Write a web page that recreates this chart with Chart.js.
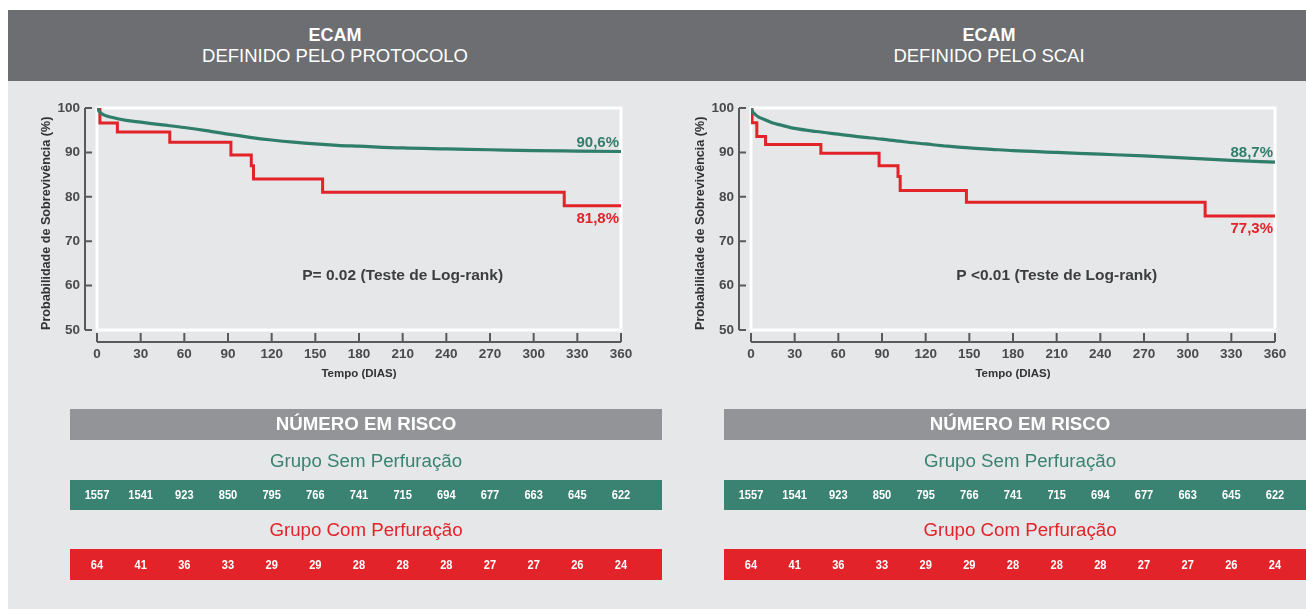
<!DOCTYPE html>
<html lang="pt">
<head>
<meta charset="utf-8">
<title>ECAM - Sobrevivência</title>
<script src="https://cdn.jsdelivr.net/npm/chart.js@4.4.1/dist/chart.umd.min.js"></script>
<style>
  html, body { margin: 0; padding: 0; }
  body { width: 1306px; height: 609px; position: relative; overflow: hidden; background: #ffffff;
         font-family: 'Liberation Sans', Arial, sans-serif; }
  .fundo { position: absolute; left: 8px; top: 10px; right: 0; bottom: 0; background: #e6e7e8; }
  .cabecalho { position: absolute; left: 8px; top: 10px; width: 1298px; height: 71px; background: #6d6e71; }
  .titulo { position: absolute; top: 10px; width: 400px; text-align: center; color: #ffffff; }
  .titulo b { display: block; font-size: 18px; line-height: 20px; margin-top: 15px; }
  .titulo span { display: block; font-size: 18.5px; line-height: 21px; }
  .painel { position: absolute; top: 81px; width: 680px; height: 528px; }
</style>
</head>
<body>
<div class="fundo"></div>
<div class="cabecalho"></div>
<div class="titulo" style="left:135px"><b>ECAM</b><span>DEFINIDO PELO PROTOCOLO</span></div>
<div class="titulo" style="left:789px"><b>ECAM</b><span>DEFINIDO PELO SCAI</span></div>
<div class="painel" style="left:0px"><canvas id="chartProtocolo" width="680" height="528"></canvas></div>
<div class="painel" style="left:654px"><canvas id="chartScai" width="680" height="528"></canvas></div>

<script>
// eixos
const tickDias = [0, 30, 60, 90, 120, 150, 180, 210, 240, 270, 300, 330, 360];
const tickProb = [50, 60, 70, 80, 90, 100];

// ECAM definido pelo protocolo - grupo sem perfuração (curva suave)
const protoSemDias = [0, 2, 5, 10, 20, 30, 45, 60, 75, 90, 105, 120, 135, 150, 165, 180, 210, 240, 270, 300, 330, 360];
const protoSemProb = [100, 99.0, 98.4, 97.9, 97.2, 96.8, 96.2, 95.6, 94.9, 94.1, 93.4, 92.8, 92.3, 91.9, 91.6, 91.4, 91.0, 90.8, 90.6, 90.4, 90.3, 90.2];
// ECAM definido pelo protocolo - grupo com perfuração (degraus)
const protoComDias = [0, 2, 14, 50, 92, 106, 107.5, 155, 321, 360];
const protoComProb = [100, 96.6, 94.6, 92.3, 89.4, 87.0, 84.0, 81.0, 78.0, 78.0];

// ECAM definido pelo SCAI
const scaiSemDias = [0, 1, 3, 5, 10, 15, 20, 30, 45, 60, 75, 90, 105, 120, 135, 150, 165, 180, 210, 240, 270, 300, 330, 360];
const scaiSemProb = [100, 99.2, 98.5, 98.0, 97.3, 96.6, 96.2, 95.4, 94.7, 94.1, 93.5, 93.0, 92.4, 91.9, 91.4, 91.0, 90.7, 90.4, 90.0, 89.6, 89.2, 88.7, 88.2, 87.8];
const scaiComDias = [0, 0.7, 4, 10, 48, 88, 101, 102.5, 148, 312, 360];
const scaiComProb = [100, 96.7, 93.6, 91.8, 89.8, 87.0, 84.6, 81.4, 78.8, 75.7, 75.7];

// número em risco
const riscoSem = [1557, 1541, 923, 850, 795, 766, 741, 715, 694, 677, 663, 645, 622];
const riscoCom = [64, 41, 36, 33, 29, 29, 28, 28, 28, 27, 27, 26, 24];

const VERDE = '#2f7d6b';
const VERDE_BARRA = '#3a8271';
const VERMELHO = '#e2232a';
const CINZA_TEXTO = '#4a4a4c';
const FONTE = "'Liberation Sans', Arial, sans-serif";

function pontos(dias, prob) {
  return dias.map((d, i) => ({ x: d, y: prob[i] }));
}

// desenha moldura, eixos deslocados, rótulos e tabela de risco
const extras = {
  id: 'extras',
  beforeDatasetsDraw(chart) {
    const { ctx, chartArea: a } = chart;
    ctx.save();
    ctx.strokeStyle = '#ffffff';
    ctx.lineWidth = 3;
    ctx.strokeRect(a.left, a.top, a.right - a.left, a.bottom - a.top);
    ctx.restore();
  },
  afterDraw(chart, args, opts) {
    const { ctx, chartArea: a, scales: { x, y } } = chart;
    ctx.save();

    // eixo y
    const ex = a.left - 12;
    ctx.strokeStyle = '#58595b';
    ctx.lineWidth = 2;
    ctx.beginPath();
    ctx.moveTo(ex, y.getPixelForValue(100));
    ctx.lineTo(ex, y.getPixelForValue(50));
    tickProb.forEach(v => {
      const py = y.getPixelForValue(v);
      ctx.moveTo(ex, py);
      ctx.lineTo(ex + 7, py);
    });
    ctx.stroke();

    // eixo x
    const ey = a.bottom + 12;
    ctx.beginPath();
    ctx.moveTo(x.getPixelForValue(0), ey);
    ctx.lineTo(x.getPixelForValue(360), ey);
    tickDias.forEach(v => {
      const px = x.getPixelForValue(v);
      ctx.moveTo(px, ey);
      ctx.lineTo(px, ey - 9);
    });
    ctx.stroke();

    // rótulos finais das curvas
    ctx.textAlign = 'right';
    ctx.textBaseline = 'middle';
    ctx.font = 'bold 15px ' + FONTE;
    ctx.fillStyle = VERDE;
    ctx.fillText(opts.rotuloSem, x.getPixelForValue(360) - 2, y.getPixelForValue(opts.fimSem) - 9);
    ctx.fillStyle = VERMELHO;
    ctx.fillText(opts.rotuloCom, x.getPixelForValue(360) - 2, y.getPixelForValue(opts.fimCom) + 13);

    // valor de p
    ctx.textAlign = 'center';
    ctx.font = 'bold 15.5px ' + FONTE;
    ctx.fillStyle = '#3d3d3f';
    ctx.fillText(opts.valorP, x.getPixelForValue(210), y.getPixelForValue(62.2));

    // tabela número em risco
    const tx0 = 70, tx1 = 662, cx = (tx0 + tx1) / 2;
    ctx.fillStyle = '#929497';
    ctx.fillRect(tx0, 328, tx1 - tx0, 31);
    ctx.fillStyle = '#ffffff';
    ctx.font = 'bold 18.7px ' + FONTE;
    ctx.fillText('NÚMERO EM RISCO', cx, 344);

    ctx.font = '18.7px ' + FONTE;
    ctx.fillStyle = VERDE_BARRA;
    ctx.fillText('Grupo Sem Perfuração', cx, 381);
    ctx.fillRect(tx0, 399, tx1 - tx0, 30);

    ctx.fillStyle = VERMELHO;
    ctx.fillText('Grupo Com Perfuração', cx, 450);
    ctx.fillRect(tx0, 468, tx1 - tx0, 31);

    // números em fonte condensada (escala horizontal)
    ctx.fillStyle = '#ffffff';
    ctx.font = 'bold 13.5px ' + FONTE;
    tickDias.forEach((d, i) => {
      const px = x.getPixelForValue(d);
      ctx.save();
      ctx.translate(px, 0);
      ctx.scale(0.82, 1);
      ctx.fillText(String(riscoSem[i]), 0, 414);
      ctx.fillText(String(riscoCom[i]), 0, 484);
      ctx.restore();
    });

    ctx.restore();
  }
};

function criarGrafico(id, semDias, semProb, comDias, comProb, extraOpts) {
  const ctx = document.getElementById(id).getContext('2d');
  return new Chart(ctx, {
    type: 'line',
    data: {
      datasets: [
        {
          label: 'Grupo Sem Perfuração',
          data: pontos(semDias, semProb),
          borderColor: VERDE,
          borderWidth: 3.2,
          pointRadius: 0,
          cubicInterpolationMode: 'monotone',
          fill: false
        },
        {
          label: 'Grupo Com Perfuração',
          data: pontos(comDias, comProb),
          borderColor: VERMELHO,
          borderWidth: 3,
          pointRadius: 0,
          stepped: 'before',
          fill: false
        }
      ]
    },
    options: {
      responsive: false,
      animation: false,
      layout: { padding: { left: 37, top: 27, right: 59, bottom: 228 } },
      plugins: {
        legend: { display: false },
        tooltip: { enabled: false },
        extras: extraOpts
      },
      scales: {
        x: {
          type: 'linear',
          min: 0,
          max: 360,
          afterBuildTicks: s => { s.ticks = tickDias.map(v => ({ value: v })); },
          afterFit: s => { s.height = 51; },
          grid: { display: false, drawTicks: false },
          border: { display: false },
          ticks: {
            autoSkip: false,
            maxRotation: 0,
            padding: 16,
            color: CINZA_TEXTO,
            font: { family: FONTE, size: 13.5, weight: 'bold' }
          },
          title: {
            display: true,
            text: 'Tempo (DIAS)',
            color: '#333335',
            padding: { top: 0, bottom: 0 },
            font: { family: FONTE, size: 11.5, weight: 'bold' }
          }
        },
        y: {
          min: 50,
          max: 100,
          afterBuildTicks: s => { s.ticks = tickProb.map(v => ({ value: v })); },
          afterFit: s => { s.width = 60; },
          grid: { display: false, drawTicks: false },
          border: { display: false },
          ticks: {
            padding: 17,
            color: CINZA_TEXTO,
            font: { family: FONTE, size: 13.5, weight: 'bold' }
          },
          title: {
            display: true,
            text: 'Probabilidade de Sobrevivência (%)',
            align: 'start',
            color: '#333335',
            padding: { top: 2, bottom: 0 },
            font: { family: FONTE, size: 12.6, weight: 'bold' }
          }
        }
      }
    },
    plugins: [extras]
  });
}

criarGrafico('chartProtocolo', protoSemDias, protoSemProb, protoComDias, protoComProb, {
  rotuloSem: '90,6%', rotuloCom: '81,8%', fimSem: 90.2, fimCom: 78.0,
  valorP: 'P= 0.02 (Teste de Log-rank)'
});
criarGrafico('chartScai', scaiSemDias, scaiSemProb, scaiComDias, scaiComProb, {
  rotuloSem: '88,7%', rotuloCom: '77,3%', fimSem: 87.8, fimCom: 75.7,
  valorP: 'P <0.01 (Teste de Log-rank)'
});
</script>
</body>
</html>
